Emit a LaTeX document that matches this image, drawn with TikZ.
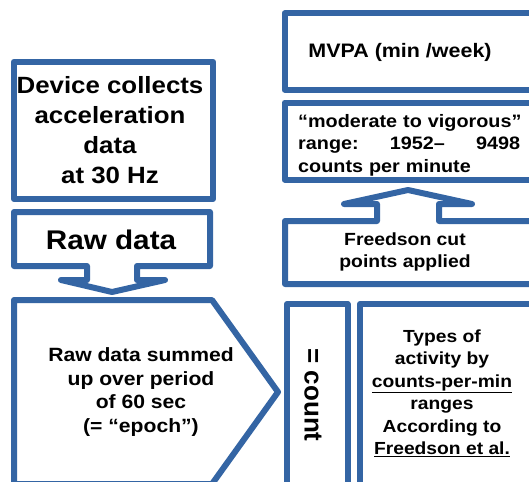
\documentclass[tikz,border=0pt]{standalone}
\usepackage{fontspec}
\setmainfont[FakeStretch=1.1]{Liberation Sans}
\newfontfamily\countfont{Liberation Sans}
\definecolor{boxblue}{HTML}{3465A4}
\tikzset{
  outline/.style={draw=boxblue, line width=6pt, line join=round, fill=white},
  label/.style={font=\bfseries, inner sep=0pt, align=center, text=black},
}
\begin{document}
\begin{tikzpicture}[x=1pt, y=-1pt]
\useasboundingbox (0,0) rectangle (529,481);
\clip (0,0) rectangle (529,481);

% left column
\draw[outline] (14,61.7) rectangle (213,199);
\draw[outline] (14,212) -- (210,212) -- (210,266) -- (137,266) -- (137,280)
  -- (165,280) -- (112,292) -- (61,280) -- (87,280) -- (87,266) -- (14,266) -- cycle;
\draw[outline] (14,300) -- (212,300) -- (278,392) -- (212,484) -- (14,484) -- cycle;

% right column
\draw[outline] (284.5,13.5) rectangle (545,89.7);
\draw[outline] (284.5,102.7) rectangle (545,179.5);
\draw[outline] (285,284) -- (545,284) -- (545,221) -- (439,221) -- (439,204)
  -- (472,204) -- (408,190) -- (344,204) -- (377,204) -- (377,221) -- (285,221) -- cycle;
\draw[outline] (287,304) rectangle (347.5,500);
\draw[outline] (360,304) rectangle (545,500);

% texts
\node[label, font=\fontsize{23.5}{30}\bfseries] (device) at (110,130)
  {Device collects\\acceleration\\data\\at 30 Hz};
\node[label, font=\fontsize{27}{32}\bfseries] (raw) at (111,239.5) {Raw data};
\node[label, font=\fontsize{19.2}{23.7}\bfseries] (summed) at (141,392)
  {Raw data summed\\up over period\\of 60 sec\\(= “epoch”)};
\node[label, font=\fontsize{26}{30}\countfont\bfseries, rotate=-90] (count) at (313,395) {= count};
\node[label, font=\fontsize{17.5}{22.5}\bfseries] (types) at (442,393)
  {Types of\\activity by\\\underline{counts-per-min}\\ranges\\According to\\\underline{Freedson et al.}};
\node[label, font=\fontsize{19.5}{24}\bfseries] (mvpa) at (400,52) {MVPA (min /week)};
\node[label, font=\fontsize{18}{22.5}\bfseries, align=left, text width=222pt, anchor=north west]
  (range) at (298,114) {\makebox[222pt][s]{“moderate to vigorous”}\\
  \makebox[222pt][s]{range:\hfill 1952–\hfill 9498}\\counts per minute};
\node[label, font=\fontsize{17.6}{22}\bfseries] (cut) at (405,252) {Freedson cut\\points applied};
\end{tikzpicture}
\end{document}
